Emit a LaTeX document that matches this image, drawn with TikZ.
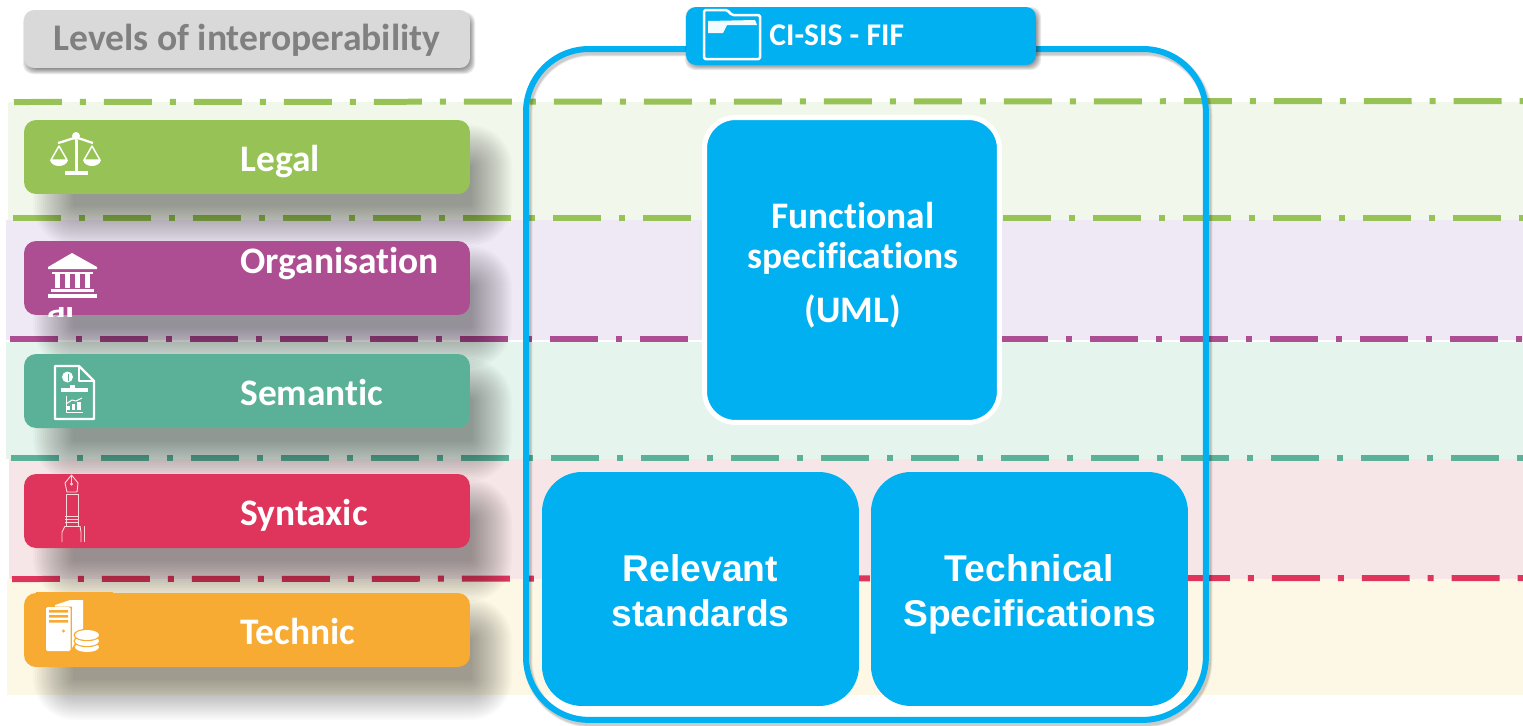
\documentclass[tikz,border=0pt]{standalone}
\usepackage{fontspec}
\setmainfont[Ligatures=NoCommon]{Carlito}
\newfontfamily\arialf{Liberation Sans}
\definecolor{cgreen}{HTML}{97C255}
\definecolor{cpurple}{HTML}{AE4E92}
\definecolor{cteal}{HTML}{5AB198}
\definecolor{cred}{HTML}{DF355D}
\definecolor{corange}{HTML}{F7AB33}
\definecolor{cblue}{HTML}{00B0F0}
\definecolor{bgreen}{HTML}{F2F7EC}
\definecolor{bpurple}{HTML}{EFE9F5}
\definecolor{bteal}{HTML}{E5F4EC}
\definecolor{bred}{HTML}{F6E6E7}
\definecolor{borange}{HTML}{FDF8E6}
\newcommand{\softshadow}[4]{%
  \foreach \d in {-20,-18,...,20}{%
    \pgfmathsetmacro{\rr}{(\d+22)*0.02}
    \fill[black,opacity=.021,rounded corners=\rr cm]
      (#1-\d,#2-\d) rectangle (#3+\d,#4+\d);}}
\newcommand{\lowshadow}[5]{%
  \foreach \d in {-3,...,3}{%
    \fill[black,opacity=.085,rounded corners=#5]
      (#1-\d,#2-\d) rectangle (#3+\d,#4+\d);}}
\tikzset{
  x=0.02cm,y=-0.02cm,
  bandline/.style={line width=0.12cm,dash pattern=on 0.96cm off 0.36cm on 0.12cm off 0.36cm},
  levelbar/.style={rounded corners=0.24cm,minimum width=8.92cm,minimum height=1.48cm,inner sep=0pt,outer sep=0pt,anchor=north west},
  leveltext/.style={text=white,font=\fontsize{21.3}{23}\selectfont\bfseries,anchor=base west,inner sep=0pt},
  bluebox/.style={fill=cblue,text=white,align=center,inner sep=0pt,outer sep=0pt,anchor=north west},
  icon/.style={draw=white,line width=0.045cm,line join=round},
  thinicon/.style={draw=white!85!red,line width=0.018cm,line join=round}
}
\begin{document}
\begin{tikzpicture}
\useasboundingbox (0,0) rectangle (1523,725);
\fill[white] (0,0) rectangle (1523,725);
% bands
\fill[bgreen] (8,102) rectangle (1523,220);
\fill[bpurple] (6,220) rectangle (1523,340);
\fill[bteal] (6,342) rectangle (1523,459);
\fill[bred] (9,459) rectangle (1523,579);
\fill[borange] (7,579) rectangle (1523,695);
% dash-dotted separators
\coordinate (l1a) at (14,102); \coordinate (l1b) at (1523,101);
\coordinate (l2a) at (13,218); \coordinate (l2b) at (1523,218);
\coordinate (l3a) at (10,339); \coordinate (l3b) at (1523,339);
\coordinate (l4a) at (11,458); \coordinate (l4b) at (1523,458);
\coordinate (l5a) at (12,579); \coordinate (l5b) at (1523,578);
\draw[bandline,cgreen] (l1a) -- (l1b);
\draw[bandline,cgreen] (l2a) -- (l2b);
\draw[bandline,cpurple] (l3a) -- (l3b);
\draw[bandline,cteal] (l4a) -- (l4b);
\draw[bandline,cred] (l5a) -- (l5b);
% title
\lowshadow{26}{15}{472}{71}{0.2cm}
\node[levelbar,fill=black!15,rounded corners=0.2cm,minimum height=1.16cm] (title) at (24,10) {};
\node[anchor=base,text=black!50,font=\fontsize{21.4}{24}\selectfont\bfseries,inner sep=0pt] (titletext) at (247,50) {Levels of interoperability};
% Legal
\softshadow{53}{145}{492}{226}
\node[levelbar,fill=cgreen] (legal) at (24,120) {};
\node[leveltext] (legalt) at (240,171) {Legal};
\draw[icon] (58,143) .. controls (66,141) and (72,138) .. (76,138) .. controls (80,138) and (86,141) .. (93,143);
\fill[white] (76,136) circle (4);
\fill[white] (74.5,140) rectangle (77.5,172);
\fill[white] (65,171) rectangle (88,175);
\draw[icon,line width=0.03cm] (59,146) -- (51,160) -- (67,160) -- cycle;
\draw[icon,line width=0.03cm] (92,146) -- (84,160) -- (100,160) -- cycle;
\fill[white] (50,160) .. controls (52,168) and (66,168) .. (68,160) -- cycle;
\fill[white] (83,160) .. controls (85,168) and (99,168) .. (101,160) -- cycle;
% Organisation
\softshadow{53}{266}{492}{348}
\node[levelbar,fill=cpurple] (org) at (24,241) {};
\node[leveltext] (orgt) at (240,273) {Organisation};
\fill[white] (48,267) -- (72,253) -- (97,267) -- (97,269) -- (48,269) -- cycle;
\fill[white] (52,272) rectangle (93,274);
\foreach \cx in {55,65,75,85}{\fill[white] (\cx,274) rectangle (\cx+5,288);}
\fill[white] (51,289) rectangle (94,292);
\fill[white] (48,294) rectangle (97,298);
\begin{scope}
  \clip (40,307) rectangle (80,316);
  \node[text=white,font=\fontsize{21.3}{23}\selectfont\bfseries,anchor=base west,inner sep=0pt] (orgfrag) at (47,320) {al};
\end{scope}
% Semantic
\softshadow{53}{379}{492}{461}
\node[levelbar,fill=cteal] (sem) at (24,354) {};
\fill[cteal] (48,359) rectangle (109,372);
\node[leveltext] (semt) at (240,405) {Semantic};
\draw[icon] (55,366) -- (79,366) -- (94,381) -- (94,419) -- (55,419) -- cycle;
\draw[icon,line width=0.025cm] (79,366) -- (79,381) -- (94,381);
\fill[white] (67.5,377) circle (5.5);
\fill[cteal] (67.5,373.5) rectangle (68.5,381);
\fill[white] (61,388) rectangle (88,392);
\fill[white] (70,385) rectangle (75,390);
\draw[icon,line width=0.02cm] (66,396) -- (66,412) -- (83,412);
\fill[white] (67,406) rectangle (70,410);
\fill[white] (72,404) rectangle (75,410);
\fill[white] (77,402) rectangle (81,410);
\draw[icon,line width=0.02cm] (66,404) -- (72,400) -- (76,401) -- (82,398);
% Syntaxic
\softshadow{53}{499}{492}{581}
\node[levelbar,fill=cred] (syn) at (24,474) {};
\node[leveltext] (synt) at (240,525) {Syntaxic};
\draw[thinicon] (71.5,475) -- (65,483) -- (67,492) -- (77,492) -- (78,483) -- cycle;
\draw[thinicon] (71.5,475) -- (71.5,484);
\fill[white!85!red] (71.5,484) circle (1.6);
\draw[thinicon] (66,494) -- (66,526);
\draw[thinicon] (78,494) -- (78,526);
\draw[thinicon] (66,494) -- (78,494) (65,516) -- (79,516) (65,519) -- (79,519) (65,522) -- (79,522) (65,526) -- (80,526);
\draw[thinicon] (65,526) -- (62,532) -- (62,542);
\draw[thinicon] (80,526) -- (81,532) -- (81,542);
\draw[thinicon] (84,526) -- (84,542);
% Technic
\softshadow{53}{618}{492}{700}
\node[levelbar,fill=corange] (tech) at (24,593) {};
\fill[corange] (36,592) rectangle (113,595);
\node[leveltext] (techt) at (240,644) {Technic};
\fill[white] (55,605) -- (70,600) -- (83,600) -- (83,630) -- (72,648) -- (72,606.5) -- (55,606.5) -- cycle;
\fill[white,rounded corners=0.03cm] (46,607) rectangle (70.5,651);
\fill[corange] (49,610) rectangle (68,612.5) (49,615) rectangle (68,617.5) (49,620) rectangle (68,622.5);
\fill[corange] (63.5,631) circle (1.6);
\foreach \cy in {647,641,635}{
  \fill[corange] (87,\cy) ellipse [x radius=13.5,y radius=6.2];
  \fill[white] (87,\cy) ellipse [x radius=12,y radius=5];}
% main frame
\foreach \w/\o in {0.18/.05,0.15/.07,0.12/.09}{
  \draw[black,opacity=\o,line width=\w cm,rounded corners=1.26cm] (528,52) rectangle (1208,723);}
\node[draw=cblue,line width=0.12cm,rounded corners=1.26cm,minimum width=13.6cm,minimum height=13.42cm,inner sep=0pt,outer sep=0pt,anchor=north west] (frame) at (526,49) {};
% header
\lowshadow{688}{10}{1038}{67}{0.2cm}
\node[bluebox,rounded corners=0.2cm,minimum width=7cm,minimum height=1.16cm] (header) at (686,7) {};
\node[text=white,font=\fontsize{18}{20}\selectfont\bfseries,anchor=base west,inner sep=0pt] (headert) at (769,45) {CI-SIS - FIF};
\draw[white,line width=0.05cm,line join=round,rounded corners=0.03cm] (704,59) -- (704,10) -- (727,10) -- (732,15) -- (760,15) -- (760,59) -- cycle;
\fill[white!95!cblue] (708,31) -- (708,21) -- (755,20) -- (757,25) -- (727,25) -- (723,33) -- (708,33) -- cycle;
% boxes
\node[bluebox,draw=white,line width=0.1cm,rounded corners=0.62cm,minimum width=5.9cm,minimum height=6.1cm] (func) at (704.5,117.5) {};
\node[text=white,align=center,font=\fontsize{21.3}{22.8}\selectfont\bfseries,inner sep=0pt] (funct) at (853,238.5) {Functional\\specifications};
\node[text=white,font=\fontsize{21.3}{23}\selectfont\bfseries,inner sep=0pt] (funcu) at (853,311.5) {(UML)};
\node[bluebox,rounded corners=0.8cm,minimum width=6.34cm,minimum height=4.68cm] (rel) at (542,472) {};
\node[text=white,align=center,font=\arialf\fontsize{21.2}{25.5}\selectfont\bfseries,inner sep=0pt] (relt) at (700.5,591) {Relevant\\standards};
\node[bluebox,rounded corners=0.8cm,minimum width=6.34cm,minimum height=4.68cm] (techspec) at (871,472) {};
\node[text=white,align=center,font=\arialf\fontsize{21.2}{25.5}\selectfont\bfseries,inner sep=0pt] (techspect) at (1029.5,594) {Technical\\Specifications};
\end{tikzpicture}
\end{document}
